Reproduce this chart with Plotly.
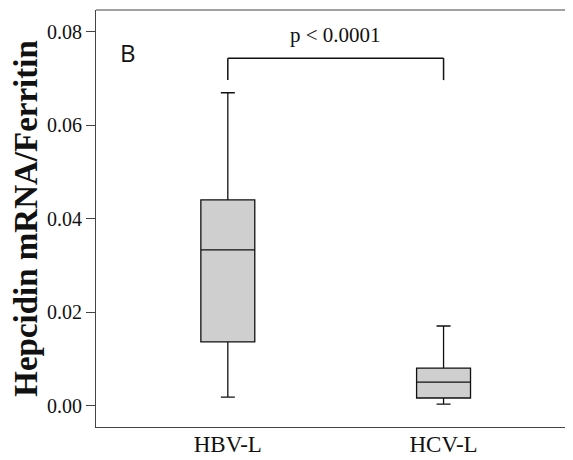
import plotly.graph_objects as go

categories = ["HBV-L", "HCV-L"]
positions = [0, 1]
q1 = [0.0137, 0.0017]
median = [0.0334, 0.0051]
q3 = [0.0441, 0.0081]
lower = [0.0019, 0.0004]
upper = [0.067, 0.0171]
y_ticks = [0.00, 0.02, 0.04, 0.06, 0.08]
y_tick_labels = ["0.00", "0.02", "0.04", "0.06", "0.08"]
p_label = "p < 0.0001"
panel_label = "B"

SERIF = "Liberation Serif, Times New Roman, serif"

fig = go.Figure()
fig.add_trace(go.Box(
    x=positions, q1=q1, median=median, q3=q3,
    lowerfence=lower, upperfence=upper,
    width=0.25, whiskerwidth=0.26,
    fillcolor="#cfcfcf", line=dict(color="#111111", width=1.3),
    boxpoints=False, showlegend=False, hoverinfo="skip",
))

# bracket
fig.add_shape(type="line", x0=0, x1=1, y0=0.0744, y1=0.0744, line=dict(color="#111", width=1.5))
fig.add_shape(type="line", x0=0, x1=0, y0=0.0744, y1=0.0697, line=dict(color="#111", width=1.5))
fig.add_shape(type="line", x0=1, x1=1, y0=0.0744, y1=0.0697, line=dict(color="#111", width=1.5))
fig.add_annotation(x=0.5, y=0.0794, text=p_label, showarrow=False,
                   font=dict(family=SERIF, size=21, color="#111"))
fig.add_annotation(x=-0.463, y=0.0757, text=panel_label, showarrow=False,
                   font=dict(family="Open Sans, DejaVu Sans, sans-serif", size=24, color="#111"))
# top border
fig.add_shape(type="line", xref="paper", yref="paper", x0=0, x1=1, y0=1, y1=1,
              line=dict(color="#444", width=1.2))

fig.update_layout(
    width=565, height=452,
    margin=dict(l=88, r=0, t=2, b=33),
    paper_bgcolor="white", plot_bgcolor="white",
    xaxis=dict(range=[-0.611, 1.6], tickvals=positions, ticktext=categories,
               showgrid=False, zeroline=False, showline=True, linecolor="#444", linewidth=1.2,
               ticks="", ticklabelstandoff=-4, automargin=False,
               tickfont=dict(family=SERIF, size=23, color="#111")),
    yaxis=dict(range=[-0.0045, 0.0847], tickvals=y_ticks, ticktext=y_tick_labels,
               showgrid=False, zeroline=False, showline=True, linecolor="#444", linewidth=1.2,
               ticks="outside", ticklen=9, tickcolor="#444", automargin=False,
               tickfont=dict(family=SERIF, size=20, color="#111"),
               title=dict(text="<b>Hepcidin mRNA/Ferritin</b>", standoff=6,
                          font=dict(family=SERIF, size=33, color="#111"))),
)

fig.write_html("out.html")
